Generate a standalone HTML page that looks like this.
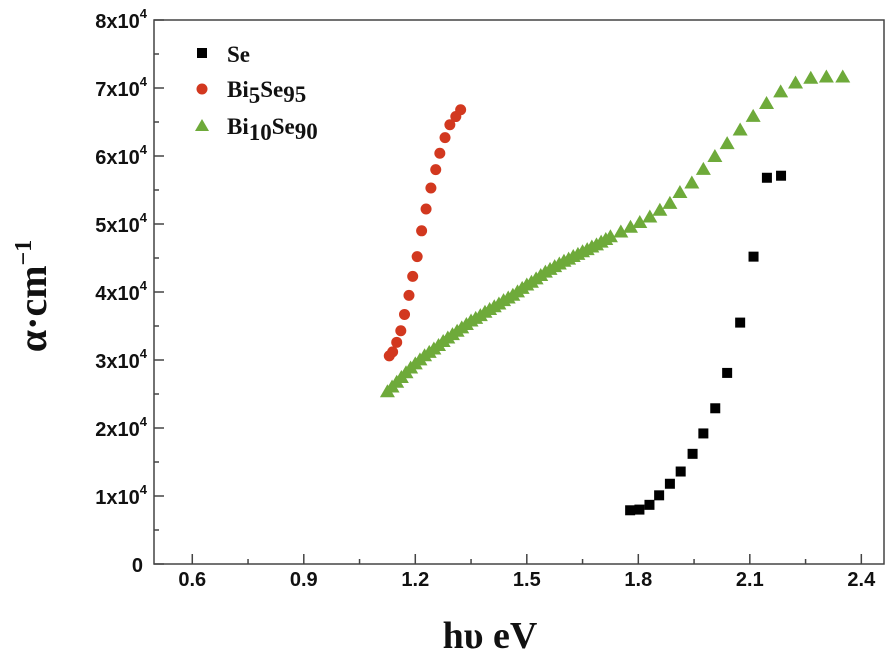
<!DOCTYPE html>
<html><head><meta charset="utf-8"><style>
html,body{margin:0;padding:0;background:#fff;}
svg{display:block;}
.tk{font-family:"Liberation Sans",Arial,sans-serif;font-weight:bold;font-size:20px;fill:#111;}
.ttl{font-family:"Liberation Serif","Times New Roman",serif;font-weight:bold;fill:#111;}
</style></head><body>
<svg id="chart" width="888" height="656" viewBox="0 0 888 656">
<g id="axes"></g><g id="marks"></g>
<text class="ttl" font-size="38" x="490" y="648" text-anchor="middle">hυ eV</text>
<text class="ttl" font-size="40" transform="translate(46,296) rotate(-90)" text-anchor="middle">α·cm<tspan font-size="24" dy="-15">−1</tspan></text>
<g>
<rect x="197" y="48" width="10" height="10" fill="#000"/>
<text class="ttl" font-size="23" x="227" y="62">Se</text>
<circle cx="202" cy="89" r="5.5" fill="#d2381f"/>
<text class="ttl" font-size="23" x="227" y="97">Bi<tspan font-size="23" dy="6">5</tspan><tspan dy="-6">Se</tspan><tspan dy="5">95</tspan></text>
<polygon points="195,131 202,119 209,131" fill="#6eaa3a"/>
<text class="ttl" font-size="23" x="227" y="134">Bi<tspan dy="6">10</tspan><tspan dy="-6">Se</tspan><tspan dy="5">90</tspan></text>
</g>
</svg>
<script>
const seX=[1.778,1.803,1.830,1.856,1.885,1.914,1.946,1.975,2.007,2.039,2.074,2.110,2.146,2.184];
const seY=[7900,8000,8700,10100,11800,13600,16200,19200,22900,28100,35500,45200,56800,57100];
const bi5X=[1.130,1.139,1.150,1.161,1.171,1.183,1.193,1.205,1.217,1.229,1.242,1.255,1.266,1.280,1.293,1.309,1.322];
const bi5Y=[30600,31200,32600,34300,36700,39500,42300,45200,49000,52200,55300,58000,60400,62700,64600,65800,66800];
const bi10X=[1.125,1.1375,1.15,1.1625,1.175,1.1875,1.2,1.2125,1.225,1.2375,1.25,1.2625,1.275,1.2875,1.3,1.3125,1.325,1.3375,1.35,1.3625,1.375,1.3875,1.4,1.4125,1.425,1.4375,1.45,1.4625,1.475,1.4875,1.5,1.5125,1.525,1.5375,1.55,1.5625,1.575,1.5875,1.6,1.6125,1.625,1.6375,1.65,1.6625,1.675,1.6875,1.7,1.7125,1.725,1.753,1.779,1.804,1.831,1.858,1.885,1.912,1.944,1.975,2.006,2.039,2.074,2.109,2.145,2.183,2.223,2.264,2.306,2.350];
const bi10Y=[25400,26100,26800,27500,28200,28900,29500,30100,30700,31200,31700,32200,32800,33300,33800,34300,34800,35300,35800,36200,36600,37100,37500,37900,38300,38800,39200,39600,40100,40600,41100,41500,42000,42500,43000,43400,43800,44200,44600,44900,45300,45600,46000,46300,46700,47000,47400,47800,48200,48900,49600,50300,51100,52100,53100,54700,56100,58100,60000,61900,63900,65900,67800,69500,70800,71500,71700,71700];
const xTicks=[0.6,0.9,1.2,1.5,1.8,2.1,2.4];
const xTickLabels=["0.6","0.9","1.2","1.5","1.8","2.1","2.4"];
const yTicks=[0,10000,20000,30000,40000,50000,60000,70000,80000];
const yTickLabels=["0","1x10","2x10","3x10","4x10","5x10","6x10","7x10","8x10"];

const L=154,R=884,T=20,B=564,X0=0.497,X1=2.461,Y0=0,Y1=80000;
const sx=v=>L+(v-X0)/(X1-X0)*(R-L);
const sy=v=>B-(v-Y0)/(Y1-Y0)*(B-T);
const NS="http://www.w3.org/2000/svg";
const axes=document.getElementById('axes'),marks=document.getElementById('marks');
function mk(tag,attrs,parent){const e=document.createElementNS(NS,tag);for(const k in attrs)e.setAttribute(k,attrs[k]);parent.appendChild(e);return e;}

const frame=mk('rect',{x:L,y:T,width:R-L,height:B-T,fill:'none',stroke:'#444','stroke-width':1.5},axes);



xTicks.forEach((v,i)=>{
  const x=sx(v);
  const t=mk('line',{x1:x,x2:x,y1:B,y2:B-10,stroke:'#444','stroke-width':1.5},axes);
  
  
  if(i<xTicks.length-1){const xm=sx(v+0.15);
    const m=mk('line',{x1:xm,x2:xm,y1:B,y2:B-5,stroke:'#444','stroke-width':1.5},axes);
    
    }
  const lb=mk('text',{x:x,y:B+22,'text-anchor':'middle',class:'tk','font-size':21},axes);
  lb.textContent=xTickLabels[i];
  
  
});
yTicks.forEach((v,i)=>{
  const y=sy(v);
  const t=mk('line',{x1:L,x2:L+10,y1:y,y2:y,stroke:'#444','stroke-width':1.5},axes);
  
  
  if(i<yTicks.length-1){const ym=sy(v+5000);
    const m=mk('line',{x1:L,x2:L+5,y1:ym,y2:ym,stroke:'#444','stroke-width':1.5},axes);
    
    }
  const lb=mk('text',{x:i===0?143:147,y:y+8,'text-anchor':'end',class:'tk','font-size':21},axes);
  lb.textContent=yTickLabels[i];
  if(i>0){const s=document.createElementNS(NS,'tspan');s.setAttribute('font-size','13');s.setAttribute('dy','-10');s.textContent='4';lb.appendChild(s);}
  
  
});

bi10X.forEach((v,i)=>{
  const x=sx(v),y=sy(bi10Y[i]);
  const p=mk('polygon',{points:`${x-7.5},${y+6} ${x},${y-7} ${x+7.5},${y+6}`,fill:'#6eaa3a'},marks);
  
  
});
bi5X.forEach((v,i)=>{
  const c=mk('circle',{cx:sx(v),cy:sy(bi5Y[i]),r:5.5,fill:'#d2381f'},marks);
  
  
});
seX.forEach((v,i)=>{
  const r=mk('rect',{x:sx(v)-5,y:sy(seY[i])-5,width:10,height:10,fill:'#000'},marks);
  
  
});
</script>
</body></html>
